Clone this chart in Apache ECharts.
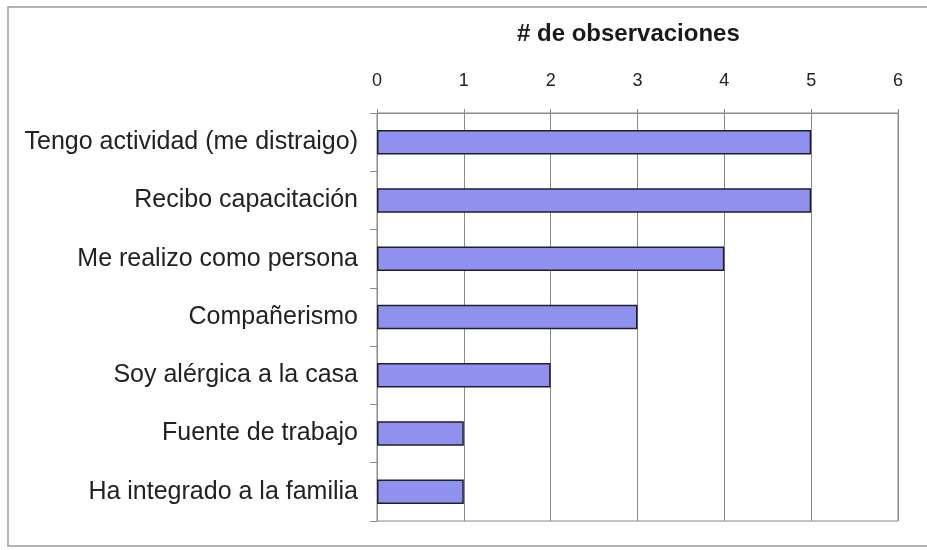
<!DOCTYPE html>
<html>
<head>
<meta charset="utf-8">
<script src="https://cdn.jsdelivr.net/npm/echarts@6/dist/echarts.min.js"></script>
<style>
  html, body { margin: 0; padding: 0; background: #fff; }
  #chart { width: 927px; height: 550px; }
</style>
</head>
<body>
<div id="chart"></div>
<script>
var categories = [
    'Tengo actividad (me distraigo)',
    'Recibo capacitación',
    'Me realizo como persona',
    'Compañerismo',
    'Soy alérgica a la casa',
    'Fuente de trabajo',
    'Ha integrado a la familia'
];
var values = [5, 5, 4, 3, 2, 1, 1];
var axisTitle = '# de observaciones';

var myChart = echarts.init(document.getElementById('chart'));

var option = {
    animation: false,
    textStyle: { fontFamily: 'Liberation Sans, Arial, sans-serif' },
    title: {
        text: axisTitle,
        left: 512,
        top: 17,
        textStyle: { fontSize: 24, fontWeight: 'bold', color: '#1a1a1a' }
    },
    graphic: [{
        type: 'rect',
        shape: { x: 8, y: 7, width: 940, height: 539 },
        style: { fill: 'none', stroke: '#9a9a9a', lineWidth: 1.5 },
        silent: true
    }],
    grid: {
        left: 377, right: 29, top: 113, bottom: 29,
        show: true, borderColor: '#8a8a8a', borderWidth: 1
    },
    xAxis: {
        type: 'value',
        position: 'top',
        min: 0, max: 6, interval: 1,
        axisLine: { show: true, lineStyle: { color: '#8a8a8a' } },
        axisTick: { show: true, length: 4, lineStyle: { color: '#8a8a8a' } },
        axisLabel: { fontSize: 18, color: '#222', margin: 23 },
        splitLine: { show: true, lineStyle: { color: '#8a8a8a', width: 1 } }
    },
    yAxis: {
        type: 'category',
        data: categories,
        inverse: true,
        axisLine: { show: true, lineStyle: { color: '#8a8a8a' } },
        axisTick: { show: true, length: 7, lineStyle: { color: '#8a8a8a' } },
        axisLabel: { fontSize: 25, color: '#222', margin: 19 }
    },
    series: [{
        type: 'bar',
        data: values,
        barWidth: '42%',
        itemStyle: { color: '#9090ee', borderColor: '#1e1e2e', borderWidth: 1.5 }
    }]
};

myChart.setOption(option);
window.onresize = function () { myChart.resize(); };
</script>
</body>
</html>
